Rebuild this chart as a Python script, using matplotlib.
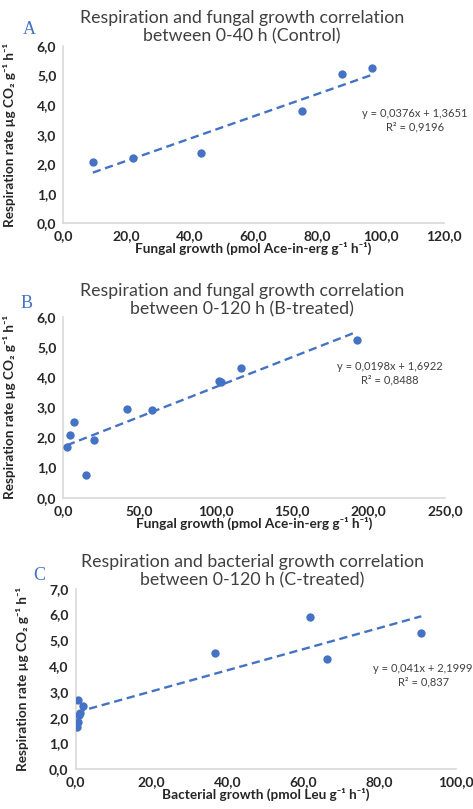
import matplotlib
matplotlib.use('Agg')
import matplotlib.pyplot as plt
import numpy as np

plt.rcParams['font.family'] = ['Lato', 'DejaVu Sans']

# ---- data ----
# A: control, 0-40 h
a_fungal = [9.3, 22.1, 43.5, 75.2, 87.8, 97.3]
a_resp = [2.06, 2.22, 2.37, 3.80, 5.05, 5.27]
a_fit = (0.0376, 1.3651)
a_eq = 'y = 0,0376x + 1,3651\nR² = 0,9196'

# B: B-treated, 0-120 h
b_fungal = [2.4, 4.6, 6.8, 14.9, 19.9, 41.5, 57.9, 101.8, 103.4, 116.1, 192.3]
b_resp = [1.69, 2.08, 2.50, 0.75, 1.91, 2.94, 2.91, 3.88, 3.83, 4.31, 5.23]
b_fit = (0.0198, 1.6922)
b_eq = 'y = 0,0198x + 1,6922\nR² = 0,8488'

# C: C-treated, 0-120 h
c_bact = [0.3, 0.7, 0.8, 1.2, 2.1, 0.7, 36.8, 61.7, 66.1, 91.0]
c_resp = [1.65, 1.84, 2.10, 2.17, 2.45, 2.69, 4.49, 5.92, 4.26, 5.30]
c_fit = (0.041, 2.1999)
c_eq = 'y = 0,041x + 2,1999\nR² = 0,837'

blue = '#4472C4'
W, H = 473, 809

fig = plt.figure(figsize=(W / 100, H / 100), dpi=100)


def px_axes(left, right, top, bottom):
    return fig.add_axes([left / W, 1 - bottom / H, (right - left) / W, (bottom - top) / H])


def comma(v):
    return f'{v:.1f}'.replace('.', ',')


panels = [
    # x, y, fit, eq, xmax, xstep, ymax, box(px), eq pos, title, title pos, letter, letter pos, xlabel, ylabel x
    (a_fungal, a_resp, a_fit, a_eq, 120, 20, 6, (63.3, 444, 46, 223.3), (0.924, 0.583),
     'Respiration and fungal growth correlation\nbetween 0-40 h (Control)', (242, 27), 'A', (29, 30),
     'Fungal growth (pmol Ace-in-erg g⁻¹ h⁻¹)', 16),
    (b_fungal, b_resp, b_fit, b_eq, 250, 50, 6, (63.3, 445, 316.7, 497.7), (0.856, 0.689),
     'Respiration and fungal growth correlation\nbetween 0-120 h (B-treated)', (242, 300), 'B', (27, 303),
     'Fungal growth (pmol Ace-in-erg g⁻¹ h⁻¹)', 16),
    (c_bact, c_resp, c_fit, c_eq, 100, 20, 7, (75.5, 455.5, 588.7, 769.3), (0.915, 0.522),
     'Respiration and bacterial growth correlation\nbetween 0-120 h (C-treated)', (252, 571), 'C', (39, 575),
     'Bacterial growth (pmol Leu g⁻¹ h⁻¹)', 29),
]

for (xs, ys, fit, eq, xmax, xstep, ymax, box, eqpos, title, tpos, letter, lpos, xlab, ylx) in panels:
    ax = px_axes(box[0], box[1], box[2], box[3])
    ax.scatter(xs, ys, s=36, color=blue, zorder=3, linewidths=0)
    xl = np.array([min(xs), max(xs)])
    ax.plot(xl, fit[0] * xl + fit[1], color=blue, lw=1.7, ls=(0, (3.5, 2)), zorder=2)

    ax.set_xlim(0, xmax)
    ax.set_ylim(0, ymax)
    xt = np.arange(0, xmax + 0.1, xstep)
    yt = np.arange(0, ymax + 0.1, 1)
    ax.set_xticks(xt)
    ax.set_yticks(yt)
    ax.set_xticklabels([comma(v) for v in xt], fontsize=10, fontweight='bold', color='#262626')
    ax.set_yticklabels([comma(v) for v in yt], fontsize=10, fontweight='bold', color='#262626')
    ax.tick_params(length=0, pad=5)
    for s in ['top', 'right']:
        ax.spines[s].set_visible(False)
    for s in ['left', 'bottom']:
        ax.spines[s].set_color('#D9D9D9')
        ax.spines[s].set_linewidth(1.2)

    ax.text(eqpos[0], eqpos[1], eq, transform=ax.transAxes, ha='center', va='center',
            fontsize=8, color='#404040', linespacing=1.3, clip_on=False)

    fig.text(tpos[0] / W, 1 - tpos[1] / H, title, ha='center', va='center', fontsize=12.8,
             color='#404040', linespacing=1.2)
    fig.text(lpos[0] / W, 1 - lpos[1] / H, letter, ha='center', va='center', fontsize=13,
             color=blue, family='Liberation Serif')
    ax.set_xlabel(xlab, fontsize=9.8, fontweight='bold', color='#262626', labelpad=0)
    ax.set_ylabel('Respiration rate µg CO₂ g⁻¹ h⁻¹', fontsize=9.8, fontweight='bold', color='#262626')
    ax.yaxis.set_label_coords((ylx - box[0]) / (box[1] - box[0]), 0.5)

fig.savefig('out.png', dpi=100)
